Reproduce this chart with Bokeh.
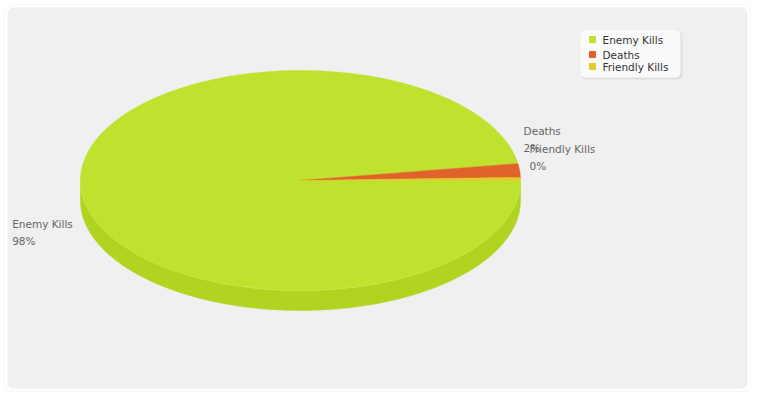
import numpy as np
from bokeh.plotting import figure
from bokeh.models import Range1d, BoxAnnotation, ColumnDataSource
from bokeh.embed import file_html
from bokeh.resources import INLINE
from bokeh.core.properties import value

# ---- data ----
categories = ["Enemy Kills", "Deaths", "Friendly Kills"]
values = [97.6, 2.0, 0.45]
top_colors = ["#bee22d", "#e2622c", "#e0cd29"]
side_colors = ["#b0d41f", "#d15520", "#d2bf1e"]

# ---- layout ----
W, H = 752, 394
CX, CY = 300, 180
RX, RY = 220, 110
DEPTH = 20
FONT = value("DejaVu Sans")
FS = "10.5px"
LABEL_OFFSETS = [(-69, 35), (4, -39), (9, -30)]   # label block offset from slice rim midpoint
LINE_GAP = 17
LEGEND_X = 592
LEGEND_ROWS = [39, 54, 66]

p = figure(width=W, height=H, x_range=Range1d(0, W), y_range=Range1d(H, 0),
           output_backend="svg", toolbar_location=None, min_border=0)
p.axis.visible = False
p.grid.visible = False
p.outline_line_color = None
p.background_fill_color = "white"
p.border_fill_color = "white"

# panel (outer rim + inner grey)
p.add_layout(BoxAnnotation(left=4, right=750, top=4, bottom=391, fill_color="white",
                           fill_alpha=1, line_color="#e3e3e3", line_width=1, border_radius=7,
                           level="underlay"))
p.add_layout(BoxAnnotation(left=7, right=747, top=7, bottom=388, fill_color="#f0f0f0",
                           fill_alpha=1, line_color=None, border_radius=6, level="underlay"))

total = float(sum(values))
frac = np.array(values) / total
ends = np.cumsum(frac) * 2 * np.pi
starts = ends - frac * 2 * np.pi
mids = (starts + ends) / 2

# side faces (front half only)
sx, sy, sc = [], [], []
for a0, a1, c in zip(starts, ends, side_colors):
    a, b = max(a0, 0.0), min(a1, np.pi)
    if b > a:
        t = np.linspace(a, b, 200)
        xt = CX + RX * np.cos(t)
        yt = CY + RY * np.sin(t)
        sx.append(list(xt) + list(xt[::-1]))
        sy.append(list(yt) + list((yt + DEPTH)[::-1]))
        sc.append(c)
p.patches(xs=sx, ys=sy, fill_color=sc, line_color=sc, line_width=0.5)

# top faces
tx, ty = [], []
for a0, a1 in zip(starts, ends):
    n = max(3, int(np.degrees(a1 - a0)) + 2)
    t = np.linspace(a0, a1, n)
    tx.append([CX] + list(CX + RX * np.cos(t)))
    ty.append([CY] + list(CY + RY * np.sin(t)))
p.patches(xs=tx, ys=ty, fill_color=top_colors, line_color=top_colors, line_width=0.5)

# subtle rim highlight along front edge
t = np.linspace(0, np.pi, 200)
p.line(CX + RX * np.cos(t), CY + RY * np.sin(t), line_color="#cbe94e", line_width=1, line_alpha=0.8)

# data labels
pct = [f"{round(v / total * 100)}%" for v in values]
lx = [CX + RX * np.cos(m) + o[0] for m, o in zip(mids, LABEL_OFFSETS)]
ly = [CY + RY * np.sin(m) + o[1] for m, o in zip(mids, LABEL_OFFSETS)]
src = ColumnDataSource(dict(x=lx, y=ly, y2=[y + LINE_GAP for y in ly], name=categories, pct=pct))
p.text(x="x", y="y", text="name", source=src, text_font=FONT, text_font_size=FS,
       text_color="#666666", text_baseline="middle", text_align="left")
p.text(x="x", y="y2", text="pct", source=src, text_font=FONT, text_font_size=FS,
       text_color="#666666", text_baseline="middle", text_align="left")

# legend
p.add_layout(BoxAnnotation(left=581, right=682, top=31, bottom=79, fill_color="#dcdcdc",
                           fill_alpha=0.8, line_color=None, border_radius=5, level="underlay"))
p.add_layout(BoxAnnotation(left=580, right=680, top=30, bottom=77, fill_color="#fafafa",
                           fill_alpha=1, line_color=None, border_radius=5, level="underlay"))
lsrc = ColumnDataSource(dict(x=[LEGEND_X] * len(categories), y=LEGEND_ROWS,
                             tx=[LEGEND_X + 10] * len(categories), name=categories, c=top_colors))
p.scatter(x="x", y="y", source=lsrc, marker="square", size=6, fill_color="c", line_color="c")
p.text(x="tx", y="y", text="name", source=lsrc, text_font=FONT, text_font_size=FS,
       text_color="#333333", text_baseline="middle", text_align="left")

open("out.html", "w").write(file_html(p, INLINE))
